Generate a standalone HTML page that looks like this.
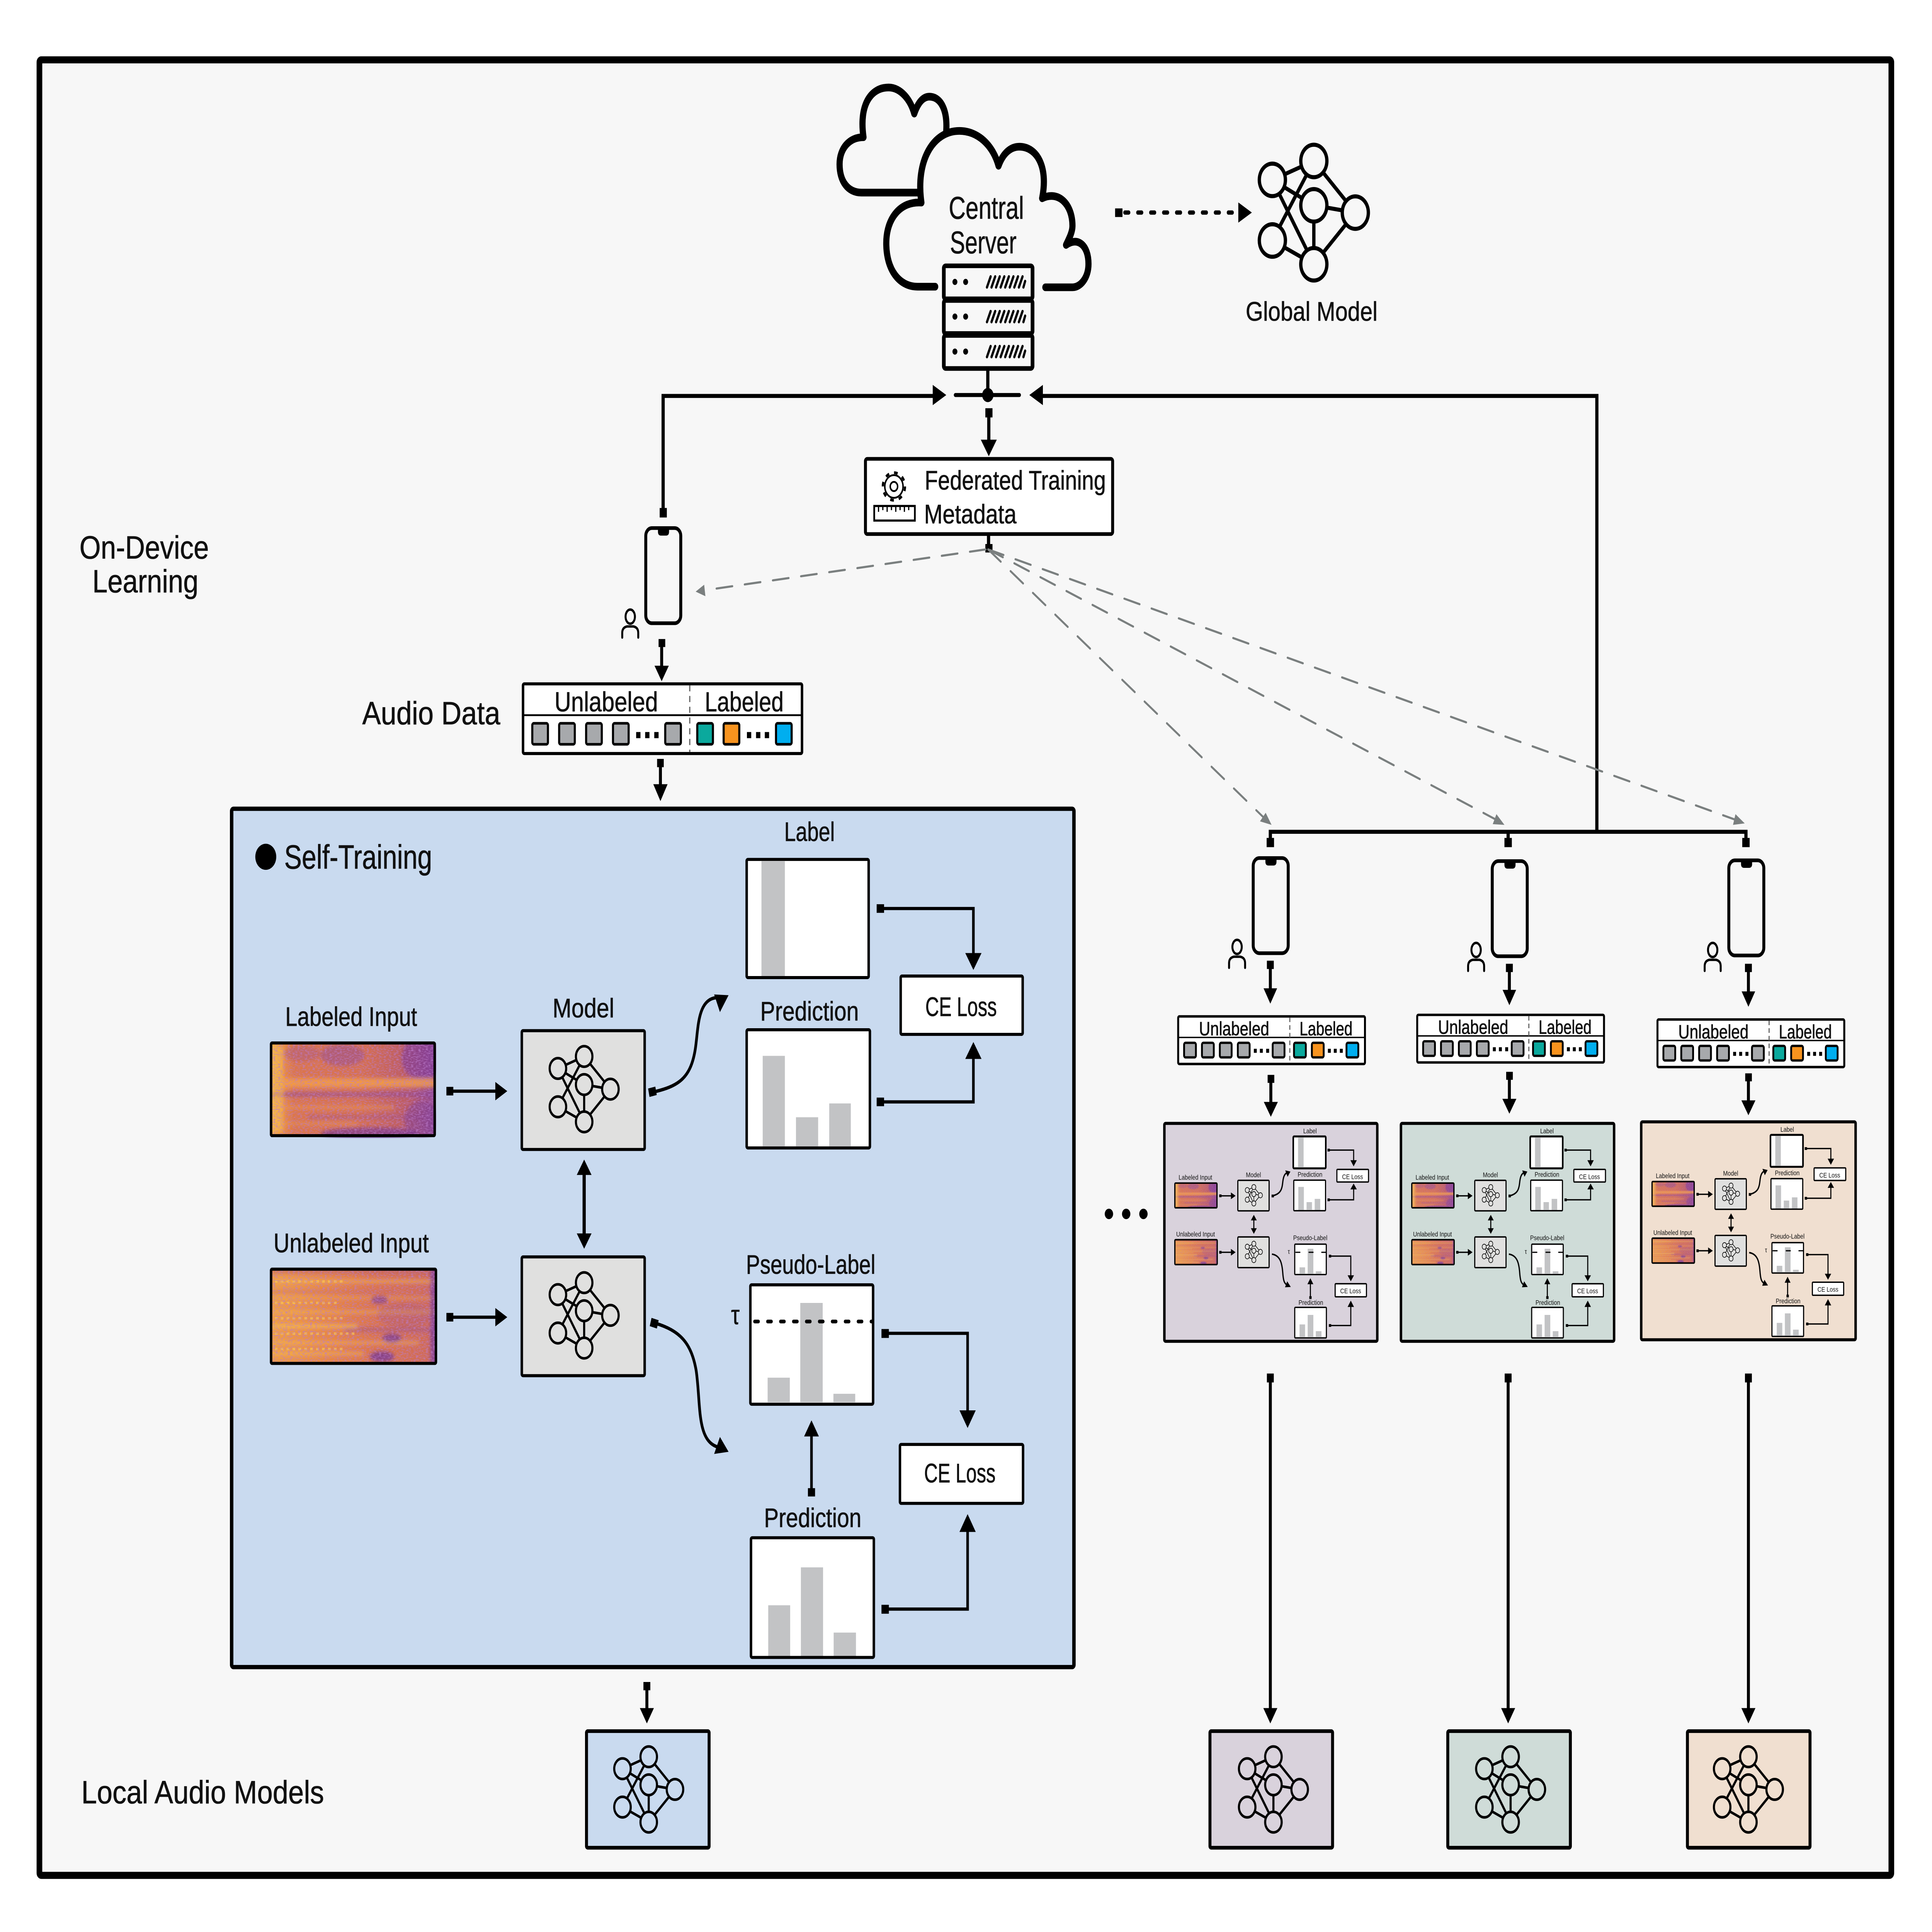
<!DOCTYPE html>
<html><head><meta charset="utf-8"><style>
html,body{margin:0;padding:0;background:#fff;width:100%;height:100%;overflow:hidden}
svg{display:block;width:100vw;height:100vh}
text{font-family:"Liberation Sans","DejaVu Sans",sans-serif;fill:#111;text-anchor:middle;stroke:#111;stroke-width:.22}
.sm text{stroke:none}
</style></head><body>
<svg xmlns="http://www.w3.org/2000/svg" viewBox="0 0 1568 1258.9" preserveAspectRatio="none">
<defs>
<linearGradient id="sg1" x1="0" x2="1" y1="0" y2="0"><stop offset="0" stop-color="#f9b13f"/><stop offset=".07" stop-color="#ec8f3c"/><stop offset=".14" stop-color="#dc7648"/><stop offset=".55" stop-color="#d7704d"/><stop offset=".85" stop-color="#bb5a62"/><stop offset="1" stop-color="#8f4590"/></linearGradient>
<linearGradient id="sg2" x1="0" x2="1" y1="0" y2="0"><stop offset="0" stop-color="#f2a040"/><stop offset=".35" stop-color="#e98740"/><stop offset=".62" stop-color="#dd7548"/><stop offset=".96" stop-color="#d06a55"/><stop offset="1" stop-color="#8f4590"/></linearGradient>
<filter id="bl" x="-10%" y="-10%" width="120%" height="120%"><feGaussianBlur stdDeviation="1.2"/></filter>
<filter id="nz" x="0" y="0" width="100%" height="100%"><feTurbulence type="fractalNoise" baseFrequency=".5 1.2" numOctaves="2" seed="4"/><feColorMatrix type="matrix" values="0 0 0 0 .5  0 0 0 0 .2  0 0 0 0 .6  0 0 0 2 -.85"/></filter>
<clipPath id="scl"><rect x="0" y="0" width="134" height="62"/></clipPath>
<g id="spec1"><g clip-path="url(#scl)"><rect width="133" height="61" fill="url(#sg1)"/>
<g filter="url(#bl)">
<ellipse cx="58" cy="8" rx="18" ry="7" fill="#8d4596" opacity=".5"/><ellipse cx="122" cy="10" rx="16" ry="14" fill="#7e3c96" opacity=".65"/><ellipse cx="25" cy="7" rx="15" ry="5" fill="#a04f86" opacity=".4"/>
<rect x="10" y="23" width="123" height="6" fill="#f9a33e" opacity=".8"/>
<rect x="0" y="32" width="133" height="3" fill="#8d4596" opacity=".6"/>
<rect x="0" y="41" width="100" height="2" fill="#f49b42" opacity=".6"/>
<rect x="30" y="47" width="103" height="2.5" fill="#9a4a8c" opacity=".45"/>
<rect x="0" y="52" width="70" height="1.2" fill="#f7a945" opacity=".6"/>
<ellipse cx="80" cy="59" rx="40" ry="4" fill="#6c3398" opacity=".65"/><ellipse cx="122" cy="50" rx="14" ry="12" fill="#7b3b97" opacity=".5"/>
<rect x="0" y="2" width="10" height="56" fill="#fbc64a" opacity=".5"/>
</g>
<rect width="133" height="61" filter="url(#nz)"/></g></g>
<g id="spec2"><g clip-path="url(#scl)"><rect width="134" height="62" fill="url(#sg2)"/>
<g filter="url(#bl)">
<rect x="0" y="0" width="134" height="3" fill="#c05f66" opacity=".6"/>
<rect x="4" y="7" width="130" height="2" fill="#fbb643" opacity=".7"/>
<rect x="0" y="14" width="100" height="1.4" fill="#c05f66" opacity=".5"/>
<rect x="0" y="18" width="134" height="1.6" fill="#fbb643" opacity=".5"/>
<rect x="0" y="27" width="134" height="2" fill="#f8bb49" opacity=".55"/>
<rect x="0" y="36" width="70" height="2.4" fill="#fcc44c" opacity=".7"/>
<rect x="60" y="38" width="74" height="3" fill="#8d4596" opacity=".4"/>
<rect x="0" y="47" width="120" height="2" fill="#fbc04a" opacity=".55"/>
<ellipse cx="88" cy="20" rx="7" ry="2.5" fill="#7b3b97" opacity=".7"/><ellipse cx="98" cy="45" rx="8" ry="3" fill="#6c3398" opacity=".7"/><ellipse cx="90" cy="57" rx="10" ry="3.5" fill="#6c3398" opacity=".75"/><ellipse cx="108" cy="30" rx="22" ry="8" fill="#a04f86" opacity=".3"/>
<rect x="129" y="0" width="5" height="62" fill="#7b3b97" opacity=".6"/>
<rect x="0" y="54" width="75" height="2" fill="#fcc44c" opacity=".55"/>
</g>
<path d="M3 8H60M3 22H55M3 32H60M3 42H70M3 52H60" stroke="#fcc84e" stroke-width="1.6" stroke-dasharray="2.2 2.6" opacity=".7"/>
<rect width="134" height="62" filter="url(#nz)"/></g></g>
<g id="net" stroke="#000" stroke-width="1.7"><path d="M-21.3-10.5L0-18.3M-21.3-10.5L0 0M-21.3-10.5L0 24.3M0-18.3L21.3 3M0-18.3L-21.3 14.5M0 0L21.3 3M0 0V24.3M21.3 3L0 24.3M-21.3 14.5L0 24.3" fill="none"/><circle cx="-21.3" cy="-10.5" r="6.7"/><circle cx="0" cy="-18.3" r="6.7"/><circle cx="0" cy="0" r="6.7"/><circle cx="21.3" cy="3" r="6.7"/><circle cx="-21.3" cy="14.5" r="6.7"/><circle cx="0" cy="24.3" r="6.7"/></g>
<g id="phone"><rect x="1.1" y="1.1" width="28.4" height="62" rx="5" ry="5" fill="none" stroke="#000" stroke-width="2.4"/><path d="M11 1.5h9v2q0 2.5-2.5 2.5h-4q-2.5 0-2.5-2.5z" fill="#000"/></g>
<g id="person" fill="none" stroke="#000" stroke-width="1.6" stroke-linecap="round"><ellipse cx="0" cy="0" rx="3.8" ry="4.6"/><path d="M-6.5 13.6v-3q0-3.6 4-4.2h5q4 .6 4 4.2v3"/></g>
<g id="rack"><rect x="0" y="0" width="72" height="21.5" rx="1.5" fill="none" stroke="#000" stroke-width="3"/><circle cx="9" cy="10.5" r="2" fill="#000"/><circle cx="17.7" cy="10.5" r="2" fill="#000"/><path d="M35 14l3-7M38.7 14l3-7M42.4 14l3-7M46.1 14l3-7M49.8 14l3-7M53.5 14l3-7M57.2 14l3-7M60.9 14l3-7M64.6 14l1.4-4" stroke="#000" stroke-width="1.8" stroke-linecap="round"/></g>

<g id="strip">
<rect x="956.2" y="662.3" width="151.6" height="31" rx="1" fill="#fff" stroke="#000" stroke-width="1.6"/>
<path d="M956.2 676H1107.8" stroke="#000" stroke-width=".9"/>
<path d="M1046.8 663V693" stroke="#666" stroke-width=".9" stroke-dasharray="3 2"/>
<g fill="#a7a9ac" stroke="#000" stroke-width="1.5">
<rect x="961" y="679.5" width="9.6" height="9.5" rx="1.2"/><rect x="975.5" y="679.5" width="9.6" height="9.5" rx="1.2"/><rect x="990" y="679.5" width="9.6" height="9.5" rx="1.2"/><rect x="1004.6" y="679.5" width="9.6" height="9.5" rx="1.2"/><rect x="1032.9" y="679.5" width="9.6" height="9.5" rx="1.2"/>
<rect x="1050.2" y="679.5" width="9.6" height="9.5" rx="1.2" fill="#0ba99d"/><rect x="1064.7" y="679.5" width="9.6" height="9.5" rx="1.2" fill="#f7931e"/><rect x="1092.8" y="679.5" width="9.6" height="9.5" rx="1.2" fill="#00aeef"/></g>
<path d="M1017.6 684.7h2.4m2.5 0h2.4m2.7 0h2.4M1077.7 684.7h2.4m2.4 0h2.4m2.5 0h2.4" stroke="#000" stroke-width="2.6"/>
</g>

<g id="mini">
<use href="#spec1" transform="translate(953.5,770.9) scale(.2575,.267)"/><rect x="953.5" y="770.9" width="34.2" height="16.1" rx=".6" fill="none" stroke="#000" stroke-width="1"/>
<use href="#spec2" transform="translate(953.5,807.8) scale(.2575,.267)"/><rect x="953.5" y="807.8" width="34.4" height="16.2" rx=".6" fill="none" stroke="#000" stroke-width="1"/>
<g fill="#e0e0df" stroke="#000" stroke-width=".9"><rect x="1004.6" y="769.1" width="25.4" height="19.9" rx=".6"/><rect x="1004.6" y="806" width="25.4" height="20" rx=".6"/></g>
<use href="#net" fill="#e0e0df" transform="translate(1017.6,778.1) scale(.25)"/><use href="#net" fill="#e0e0df" transform="translate(1017.6,815) scale(.25)"/>
<g fill="#fff" stroke="#000"><rect x="1049.6" y="740.5" width="26.4" height="20.8" rx=".7" stroke-width="1.3"/><rect x="1050" y="769" width="25.8" height="19.9" rx=".5" stroke-width=".9"/><rect x="1050.8" y="810.7" width="25.6" height="19.8" rx=".5" stroke-width=".9"/><rect x="1050.8" y="851.9" width="25.7" height="19.9" rx=".5" stroke-width=".9"/><rect x="1085" y="762" width="25.7" height="8.2" rx=".5" stroke-width=".9"/><rect x="1083.6" y="836.5" width="25.4" height="8.5" rx=".5" stroke-width=".9"/></g>
<g fill="#c2c3c5"><rect x="1053.5" y="741.3" width="4.5" height="19.4"/><rect x="1053.7" y="773.4" width="4.5" height="15"/><rect x="1060.4" y="783.3" width="4.4" height="5"/><rect x="1067" y="781.2" width="4.5" height="7.2"/><rect x="1054.7" y="825.8" width="4.5" height="4.3"/><rect x="1061.3" y="813.7" width="4.6" height="16.4"/><rect x="1067.9" y="828.4" width="4.6" height="1.7"/><rect x="1054.7" y="863" width="4.5" height="8.4"/><rect x="1061.3" y="856.8" width="4.6" height="14.6"/><rect x="1067.9" y="867.4" width="4.6" height="4"/></g>
<path d="M1051.7 816h3.3M1062.4 816h3.3M1072.7 816h3.3" stroke="#000" stroke-width=".8" stroke-linecap="round"/>
<g fill="none" stroke="#000" stroke-width=".85">
<path d="M990 779.2H999.5M990 816H999.5M1017.6 794V802M1078 749.4H1098.6V757M1078 781.8H1098.6V774.5M1079.5 818.5H1096.3V832M1079.5 863.7H1096.3V851M1063.5 846V836"/>
<path d="M1032.3 779.3C1040 778 1040.5 774.5 1041.2 769.5C1041.8 766 1043 764.5 1045 764" stroke-width="1"/>
<path d="M1032.3 817.2C1039 818 1040.5 823 1041.1 829.5C1041.6 835 1042.5 836.5 1045 837.5" stroke-width="1"/>
</g>
<g fill="#000"><rect x="989.5" y="778.3" width="1.9" height="1.8"/><rect x="989.5" y="815.1" width="1.9" height="1.8"/><rect x="1032" y="778.4" width="1.9" height="1.8"/><rect x="1077.4" y="748.5" width="1.9" height="1.8"/><rect x="1077.4" y="780.9" width="1.9" height="1.8"/><rect x="1078.5" y="817.6" width="1.9" height="1.8"/><rect x="1078.5" y="862.8" width="1.9" height="1.8"/><rect x="1062.6" y="844.6" width="1.9" height="1.8"/>
<polygon points="999,777 999,781.4 1002.8,779.2"/><polygon points="999,813.8 999,818.2 1002.8,816"/>
<polygon points="1015.2,795.2 1020,795.2 1017.6,791.6"/><polygon points="1015.2,800.3 1020,800.3 1017.6,804"/>
<polygon points="1096,756 1101.2,756 1098.6,760"/><polygon points="1096,775 1101.2,775 1098.6,771.2"/>
<polygon points="1093.7,831 1098.9,831 1096.3,834.9"/><polygon points="1093.7,851.6 1098.9,851.6 1096.3,847.5"/>
<polygon points="1061.1,836.8 1065.9,836.8 1063.5,832.9"/>
<polygon points="1043.1,762.6 1045,766.8 1047.3,763.4"/><polygon points="1044.7,834.9 1042.9,838.8 1047.6,838.6"/></g>
</g>
</defs>

<rect x="0" y="0" width="1568" height="1259" fill="#fff"/>
<rect x="32" y="39" width="1503" height="1183" fill="#f7f7f7" stroke="#000" stroke-width="4.6" rx="1.5"/>

<!-- clouds -->
<g fill="none" stroke="#000" stroke-width="5" stroke-linecap="round" stroke-linejoin="round">
<path d="M745 125.5H699.2C688 125.5 681.4 118 681.4 107C681.4 97 689 89.4 700.8 89.4C697 68 707 57 721.2 57C731 57 739 65 742 74C745 67 749 63 754.3 63C763 63 769 71 768 85"/>
<path d="M759 186.8H744.6C730 186.8 719.3 176 719.3 158.5C719.3 142 731 131 747.8 132C743 105 757 85.3 778.6 85.3C794 85.3 806 95 810.4 108C814 100 820 95.6 827.3 95.6C841 95.6 851 108 845.8 129.2C859 124 870.4 133 870.4 147.2C870.4 151 868 155 865.2 159.6C875 154 883.4 160 883.4 172C883.4 181 877 187.2 870.4 187.2H848.4"/>
</g>
<use href="#rack" transform="translate(766,173.2)"/><use href="#rack" transform="translate(766,195.8)"/><use href="#rack" transform="translate(766,218.6)"/>
<text x="800.5" y="142.5" font-size="20.5" textLength="61" lengthAdjust="spacingAndGlyphs">Central</text>
<text x="798" y="165" font-size="20.5" textLength="54" lengthAdjust="spacingAndGlyphs">Server</text>

<!-- global model -->
<path d="M907 138.5H1004" stroke="#000" stroke-width="2.8" stroke-dasharray="3 7.5" stroke-linecap="round" fill="none" stroke-dashoffset="-6"/>
<rect x="905" y="135.8" width="6" height="5.6" fill="#000"/>
<polygon points="1005,131.9 1005,145.1 1016,138.5" fill="#000"/>
<use href="#net" fill="#f7f7f7" transform="translate(1066.3,133.8) scale(1.58)"/>
<text x="1064.5" y="209" font-size="17.5" textLength="107" lengthAdjust="spacingAndGlyphs">Global Model</text>

<!-- server connections -->
<g fill="none" stroke="#000" stroke-width="2.6">
<path d="M801.7 240V257.4M775.4 257.4H827.3" stroke-linecap="round"/>
<path d="M538.2 334V258H758"/>
<path d="M1296 542V258H846"/>
<path d="M802.5 270V287"/>
<path d="M802.3 348V357"/>
<path d="M1031 546V542H1417V546M1224 542V546"/>
</g>
<circle cx="801.7" cy="257.4" r="4.6" fill="#000"/>
<g fill="#000">
<polygon points="757,250.8 757,264 768,257.4"/><polygon points="846.4,250.8 846.4,264 835.4,257.4"/>
<rect x="799.7" y="266" width="5.8" height="6"/><polygon points="796,286.5 809,286.5 802.5,297.3"/>
<rect x="799.7" y="354.5" width="5.8" height="5.5"/>
<rect x="535.4" y="331" width="5.8" height="6.2"/>
<rect x="1028" y="546" width="6" height="6"/><rect x="1221" y="546" width="6" height="6"/><rect x="1414" y="546" width="6" height="6"/>
</g>

<!-- metadata -->
<rect x="702.4" y="299" width="200.6" height="49" rx="1.5" fill="#fff" stroke="#000" stroke-width="2.4"/>
<text x="824" y="319" font-size="17.5" textLength="147" lengthAdjust="spacingAndGlyphs">Federated Training</text>
<text x="787.5" y="341" font-size="17.5" textLength="75" lengthAdjust="spacingAndGlyphs">Metadata</text>
<g fill="none" stroke="#000"><circle cx="725.5" cy="317" r="3" stroke-width="1.2"/><circle cx="725.5" cy="317" r="7.4" stroke-width="1.2"/><circle cx="725.5" cy="317" r="9" stroke-width="1.8" stroke-dasharray="3 4.07"/>
<rect x="709.5" y="329.7" width="33" height="9.5" stroke-width="1.4"/><path d="M713 330v3.5M716.5 330v2.4M720 330v3.5M723.5 330v2.4M727 330v3.5M730.5 330v2.4M734 330v3.5M737.5 330v2.4" stroke-width="1"/></g>

<!-- gray dashed -->
<g fill="none" stroke="#7a7f7f" stroke-width="1.4" stroke-dasharray="13 10" stroke-linecap="round">
<path d="M800 358L572 384.6"/><path d="M802 358L1026 533"/><path d="M802 358L1214 534"/><path d="M802 358L1408 534"/>
</g>
<g fill="#7a7f7f"><polygon points="564.6,385.5 571.5,381 572.5,388.5"/><polygon points="1032,537.5 1022.6,535.2 1027.2,529.6"/><polygon points="1221,537.5 1211.5,537 1214.5,530.5"/><polygon points="1416,536.5 1406.5,537.5 1408.5,530.5"/></g>

<!-- left labels -->
<text x="117" y="364" font-size="21" textLength="105" lengthAdjust="spacingAndGlyphs">On-Device</text>
<text x="118" y="386" font-size="21" textLength="86" lengthAdjust="spacingAndGlyphs">Learning</text>
<text x="350" y="472" font-size="21" textLength="112" lengthAdjust="spacingAndGlyphs">Audio Data</text>
<text x="164.5" y="1175" font-size="21" textLength="197" lengthAdjust="spacingAndGlyphs">Local Audio Models</text>

<!-- device 1 -->
<use href="#phone" transform="translate(523,343)"/>
<use href="#person" transform="translate(511.5,401.8)"/>
<path d="M537 420V434" stroke="#000" stroke-width="2.4"/><rect x="534.5" y="416.4" width="5.4" height="5.2" fill="#000"/><polygon points="531.2,433.8 542.8,433.8 537,443.9" fill="#000"/>
<!-- big strip -->
<rect x="424.5" y="445.6" width="226.4" height="45.4" rx="1" fill="#fff" stroke="#000" stroke-width="2"/>
<path d="M424.5 466H650.9" stroke="#000" stroke-width="1.2"/>
<path d="M559.8 446.5V490" stroke="#666" stroke-width="1" stroke-dasharray="4 3"/>
<text x="492" y="463.5" font-size="18" fill="#222" textLength="84" lengthAdjust="spacingAndGlyphs">Unlabeled</text>
<text x="604" y="463.5" font-size="18" fill="#222" textLength="64" lengthAdjust="spacingAndGlyphs">Labeled</text>
<g fill="#a7a9ac" stroke="#000" stroke-width="1.7">
<rect x="432" y="471.3" width="12.7" height="13.7" rx="1.3"/><rect x="453.8" y="471.3" width="12.7" height="13.7" rx="1.3"/><rect x="475.7" y="471.3" width="12.7" height="13.7" rx="1.3"/><rect x="497.5" y="471.3" width="12.7" height="13.7" rx="1.3"/><rect x="539.9" y="471.3" width="12.7" height="13.7" rx="1.3"/>
<rect x="565.9" y="471.3" width="12.7" height="13.7" rx="1.3" fill="#0ba99d"/><rect x="587.3" y="471.3" width="12.7" height="13.7" rx="1.3" fill="#f7931e"/><rect x="629.8" y="471.3" width="12.7" height="13.7" rx="1.3" fill="#00aeef"/></g>
<path d="M516.3 479h3.5m3.8 0h3.5m3.9 0h3.5M606.2 479h3.5m3.9 0h3.5m3.6 0h3.5" stroke="#000" stroke-width="4"/>
<path d="M536 498V512" stroke="#000" stroke-width="2.4"/><rect x="533.3" y="494.5" width="5.4" height="5.4" fill="#000"/><polygon points="530.2,511 541.8,511 536,522" fill="#000"/>

<!-- self training panel -->
<rect x="188" y="527" width="683.6" height="559.3" rx="1.5" fill="#c9daef" stroke="#000" stroke-width="2.8"/>
<circle cx="215.7" cy="558.3" r="8.5" fill="#000"/>
<text x="290.7" y="566" font-size="22" textLength="120" lengthAdjust="spacingAndGlyphs">Self-Training</text>
<text x="285" y="668.5" font-size="17.5" textLength="107" lengthAdjust="spacingAndGlyphs">Labeled Input</text>
<text x="285" y="816" font-size="17.5" textLength="126" lengthAdjust="spacingAndGlyphs">Unlabeled Input</text>
<text x="473.5" y="663" font-size="17.5" textLength="50" lengthAdjust="spacingAndGlyphs">Model</text>
<use href="#spec1" transform="translate(220,679.6)"/><rect x="220" y="679.6" width="132.8" height="60.4" rx=".8" fill="none" stroke="#000" stroke-width="2"/>
<use href="#spec2" transform="translate(220,827)"/><rect x="220" y="827" width="133.8" height="61.4" rx=".8" fill="none" stroke="#000" stroke-width="2"/>
<g fill="#e0e0df" stroke="#000" stroke-width="2"><rect x="423.5" y="671.6" width="99.7" height="77.4" rx="1"/><rect x="423.5" y="819" width="99.7" height="77.4" rx="1"/></g>
<use href="#net" fill="#e0e0df" transform="translate(474.1,706.7)"/><use href="#net" fill="#e0e0df" transform="translate(474.1,854.1)"/>

<g fill="#fff" stroke="#000" stroke-width="2">
<rect x="606" y="560" width="99" height="77" rx="1"/><rect x="606" y="671" width="100" height="77" rx="1"/>
<rect x="609" y="837.2" width="99.6" height="77.8" rx="1"/><rect x="609.5" y="1002" width="99.7" height="78" rx="1"/>
<rect x="731" y="636" width="99" height="38" rx="1"/><rect x="730.4" y="941.2" width="99.9" height="38.4" rx="1"/></g>
<g fill="#c2c3c5"><rect x="618" y="561" width="19" height="75"/><rect x="619" y="688" width="18" height="59"/><rect x="646" y="728" width="18" height="19"/><rect x="673" y="719" width="17.5" height="28"/>
<rect x="623" y="897.7" width="18" height="16"/><rect x="649.5" y="849" width="18.2" height="64.7"/><rect x="676.4" y="908.2" width="17.7" height="5.5"/>
<rect x="623.5" y="1046" width="17.8" height="33"/><rect x="650" y="1021.3" width="18" height="57.7"/><rect x="676.6" y="1063.8" width="18.1" height="15.2"/></g>
<text x="657" y="548" font-size="17.5" textLength="41" lengthAdjust="spacingAndGlyphs">Label</text>
<text x="657" y="665" font-size="17.5" textLength="80" lengthAdjust="spacingAndGlyphs">Prediction</text>
<text x="658" y="830" font-size="17.5" textLength="105" lengthAdjust="spacingAndGlyphs">Pseudo-Label</text>
<text x="659.6" y="995" font-size="17.5" textLength="79" lengthAdjust="spacingAndGlyphs">Prediction</text>
<text x="596.8" y="862.8" font-size="17.5" fill="#222" font-family="DejaVu Sans">τ</text>
<text x="780" y="662" font-size="17.5" textLength="58" lengthAdjust="spacingAndGlyphs">CE Loss</text>
<text x="779" y="966" font-size="17.5" textLength="58" lengthAdjust="spacingAndGlyphs">CE Loss</text>
<path d="M612.5 861.1H708" stroke="#000" stroke-width="2.4" stroke-dasharray="3 7.5" stroke-linecap="round"/>

<g fill="none" stroke="#000" stroke-width="2.1" stroke-linejoin="miter">
<path d="M366 711H403M366 858.3H403"/>
<path d="M474.1 764V805" stroke-width="2.6"/>
<path d="M714 592H790V622M714 718H790V689"/>
<path d="M719 868.8H785.3V920M719 1048.5H785.3V998"/>
<path d="M658.6 971V935"/>
<path d="M529.5 711.7C550 708 560 703 564 685C567 672 565 650 583 650" stroke-width="2.2"/>
<path d="M531 862C552 867 561 875 565 893C569 915 565 939 583 943" stroke-width="2.2"/>
</g>
<g fill="#000">
<rect x="362.3" y="708.2" width="5.6" height="5.6"/><rect x="362.3" y="855.5" width="5.6" height="5.6"/>
<polygon points="402,705 402,717 411.7,711"/><polygon points="402,852.3 402,864.3 411.7,858.3"/>
<polygon points="468.1,765.6 480.1,765.6 474.1,755.6"/><polygon points="468.1,803.7 480.1,803.7 474.1,813.7"/>
<rect x="711.5" y="589.2" width="6" height="5.6"/><rect x="711.5" y="715.2" width="6" height="5.6"/>
<polygon points="783.4,621 796.6,621 790,632"/><polygon points="783.4,690 796.6,690 790,679"/>
<rect x="715.4" y="866" width="6" height="5.8"/><rect x="715.4" y="1045.7" width="6" height="5.8"/>
<polygon points="778.7,919 791.9,919 785.3,930.5"/><polygon points="778.7,998.2 791.9,998.2 785.3,986.6"/>
<rect x="655.7" y="969.7" width="5.8" height="5.4"/><polygon points="652.6,936 664.6,936 658.6,925.5"/>
<rect x="526.5" y="708.6" width="6" height="5.6" transform="rotate(-12 529.5 711.4)"/><rect x="528" y="859.4" width="6" height="5.6" transform="rotate(15 531 862)"/>
<polygon points="584.3,659.5 579.6,648 591.3,648.5"/><polygon points="584.3,936.3 579.6,947.4 591.3,946"/>
</g>

<!-- ellipsis -->
<g fill="#000"><circle cx="900" cy="791" r="3.4"/><circle cx="914" cy="791" r="3.4"/><circle cx="928" cy="791" r="3.4"/></g>

<!-- devices -->
<use href="#phone" transform="translate(1016,558)"/><use href="#phone" transform="translate(1210,560)"/><use href="#phone" transform="translate(1402,559.5)"/>
<use href="#person" transform="translate(1004,617)"/><use href="#person" transform="translate(1198,619)"/><use href="#person" transform="translate(1390,619)"/>
<g stroke="#000" stroke-width="2.4"><path d="M1031 630V646M1225 632V647M1419 632V648"/></g>
<g fill="#000"><rect x="1028.2" y="626" width="5.6" height="5.4"/><rect x="1222.2" y="628" width="5.6" height="5.4"/><rect x="1416.2" y="628" width="5.6" height="5.4"/>
<polygon points="1025.5,644 1036.5,644 1031,654"/><polygon points="1219.5,645 1230.5,645 1225,655"/><polygon points="1413.5,646 1424.5,646 1419,656"/></g>

<use href="#strip"/><use href="#strip" transform="translate(194,-1)"/><use href="#strip" transform="translate(389,2)"/>
<g font-size="12.5" fill="#222">
<text x="1001.6" y="674.6" textLength="57" lengthAdjust="spacingAndGlyphs">Unlabeled</text><text x="1076.2" y="674.6" textLength="43" lengthAdjust="spacingAndGlyphs">Labeled</text>
<text x="1195.6" y="673.6" textLength="57" lengthAdjust="spacingAndGlyphs">Unlabeled</text><text x="1270.2" y="673.6" textLength="43" lengthAdjust="spacingAndGlyphs">Labeled</text>
<text x="1390.6" y="676.6" textLength="57" lengthAdjust="spacingAndGlyphs">Unlabeled</text><text x="1465.2" y="676.6" textLength="43" lengthAdjust="spacingAndGlyphs">Labeled</text>
</g>

<g stroke="#000" stroke-width="2.4"><path d="M1031.4 703V719M1225 701V717M1419 702V718"/></g>
<g fill="#000"><rect x="1028.8" y="700.4" width="5.4" height="5.2"/><rect x="1222.4" y="698.4" width="5.4" height="5.2"/><rect x="1416.4" y="699.4" width="5.4" height="5.2"/>
<polygon points="1025.7,718 1037.1,718 1031.4,727.7"/><polygon points="1219.3,716 1230.7,716 1225,725.7"/><polygon points="1413.3,717 1424.7,717 1419,726.7"/></g>

<!-- mini panels -->
<rect x="945" y="732" width="172.8" height="142" rx="1" fill="#d9d2dc" stroke="#000" stroke-width="2"/>
<rect x="1137" y="732" width="173" height="142" rx="1" fill="#cfdcd8" stroke="#000" stroke-width="2"/>
<rect x="1332" y="731" width="174" height="142" rx="1" fill="#f0dfd0" stroke="#000" stroke-width="2"/>
<use href="#mini"/><use href="#mini" transform="translate(192.3,0)"/><use href="#mini" transform="translate(387.3,-1)"/>
<g font-size="4.5" class="sm">
<g><text x="1063.2" y="738.5">Label</text><text x="1063.2" y="766.8">Prediction</text><text x="1063.4" y="808.1">Pseudo-Label</text><text x="1063.9" y="850.3">Prediction</text><text x="970.2" y="768.7">Labeled Input</text><text x="970.3" y="805.7">Unlabeled Input</text><text x="1017.3" y="767">Model</text><text x="1097.7" y="768.3">CE Loss</text><text x="1096.2" y="842.7">CE Loss</text><text x="1046" y="817" font-family="DejaVu Sans">τ</text></g>
<g transform="translate(192.3,0)"><text x="1063.2" y="738.5">Label</text><text x="1063.2" y="766.8">Prediction</text><text x="1063.4" y="808.1">Pseudo-Label</text><text x="1063.9" y="850.3">Prediction</text><text x="970.2" y="768.7">Labeled Input</text><text x="970.3" y="805.7">Unlabeled Input</text><text x="1017.3" y="767">Model</text><text x="1097.7" y="768.3">CE Loss</text><text x="1096.2" y="842.7">CE Loss</text><text x="1046" y="817" font-family="DejaVu Sans">τ</text></g>
<g transform="translate(387.3,-1)"><text x="1063.2" y="738.5">Label</text><text x="1063.2" y="766.8">Prediction</text><text x="1063.4" y="808.1">Pseudo-Label</text><text x="1063.9" y="850.3">Prediction</text><text x="970.2" y="768.7">Labeled Input</text><text x="970.3" y="805.7">Unlabeled Input</text><text x="1017.3" y="767">Model</text><text x="1097.7" y="768.3">CE Loss</text><text x="1096.2" y="842.7">CE Loss</text><text x="1046" y="817" font-family="DejaVu Sans">τ</text></g>
</g>

<!-- bottom arrows -->
<g stroke="#000" stroke-width="2.4"><path d="M1031 898V1114M1224 898V1114M1419 898V1114M525 1098V1114"/></g>
<g fill="#000"><rect x="1028.2" y="895" width="5.6" height="5.8"/><rect x="1221.2" y="895" width="5.6" height="5.8"/><rect x="1416.2" y="895" width="5.6" height="5.8"/><rect x="522.2" y="1096" width="5.6" height="5.4"/>
<polygon points="1025.3,1113 1036.7,1113 1031,1123"/><polygon points="1218.3,1113 1229.7,1113 1224,1123"/><polygon points="1413.3,1113 1424.7,1113 1419,1123"/><polygon points="519.3,1113 530.7,1113 525,1123"/></g>

<g stroke="#000" stroke-width="2.4">
<rect x="476" y="1128" width="99.5" height="76" rx="1" fill="#c9daef"/><rect x="982" y="1128" width="99.5" height="76" rx="1" fill="#d9d2dc"/><rect x="1175" y="1128" width="99.5" height="76" rx="1" fill="#cfdcd8"/><rect x="1369.5" y="1128" width="99.5" height="76" rx="1" fill="#f0dfd0"/></g>
<use href="#net" fill="#c9daef" transform="translate(526.5,1163)"/><use href="#net" fill="#d9d2dc" transform="translate(1033.5,1163)"/><use href="#net" fill="#cfdcd8" transform="translate(1226,1163)"/><use href="#net" fill="#f0dfd0" transform="translate(1419,1163)"/>
</svg>
</body></html>
